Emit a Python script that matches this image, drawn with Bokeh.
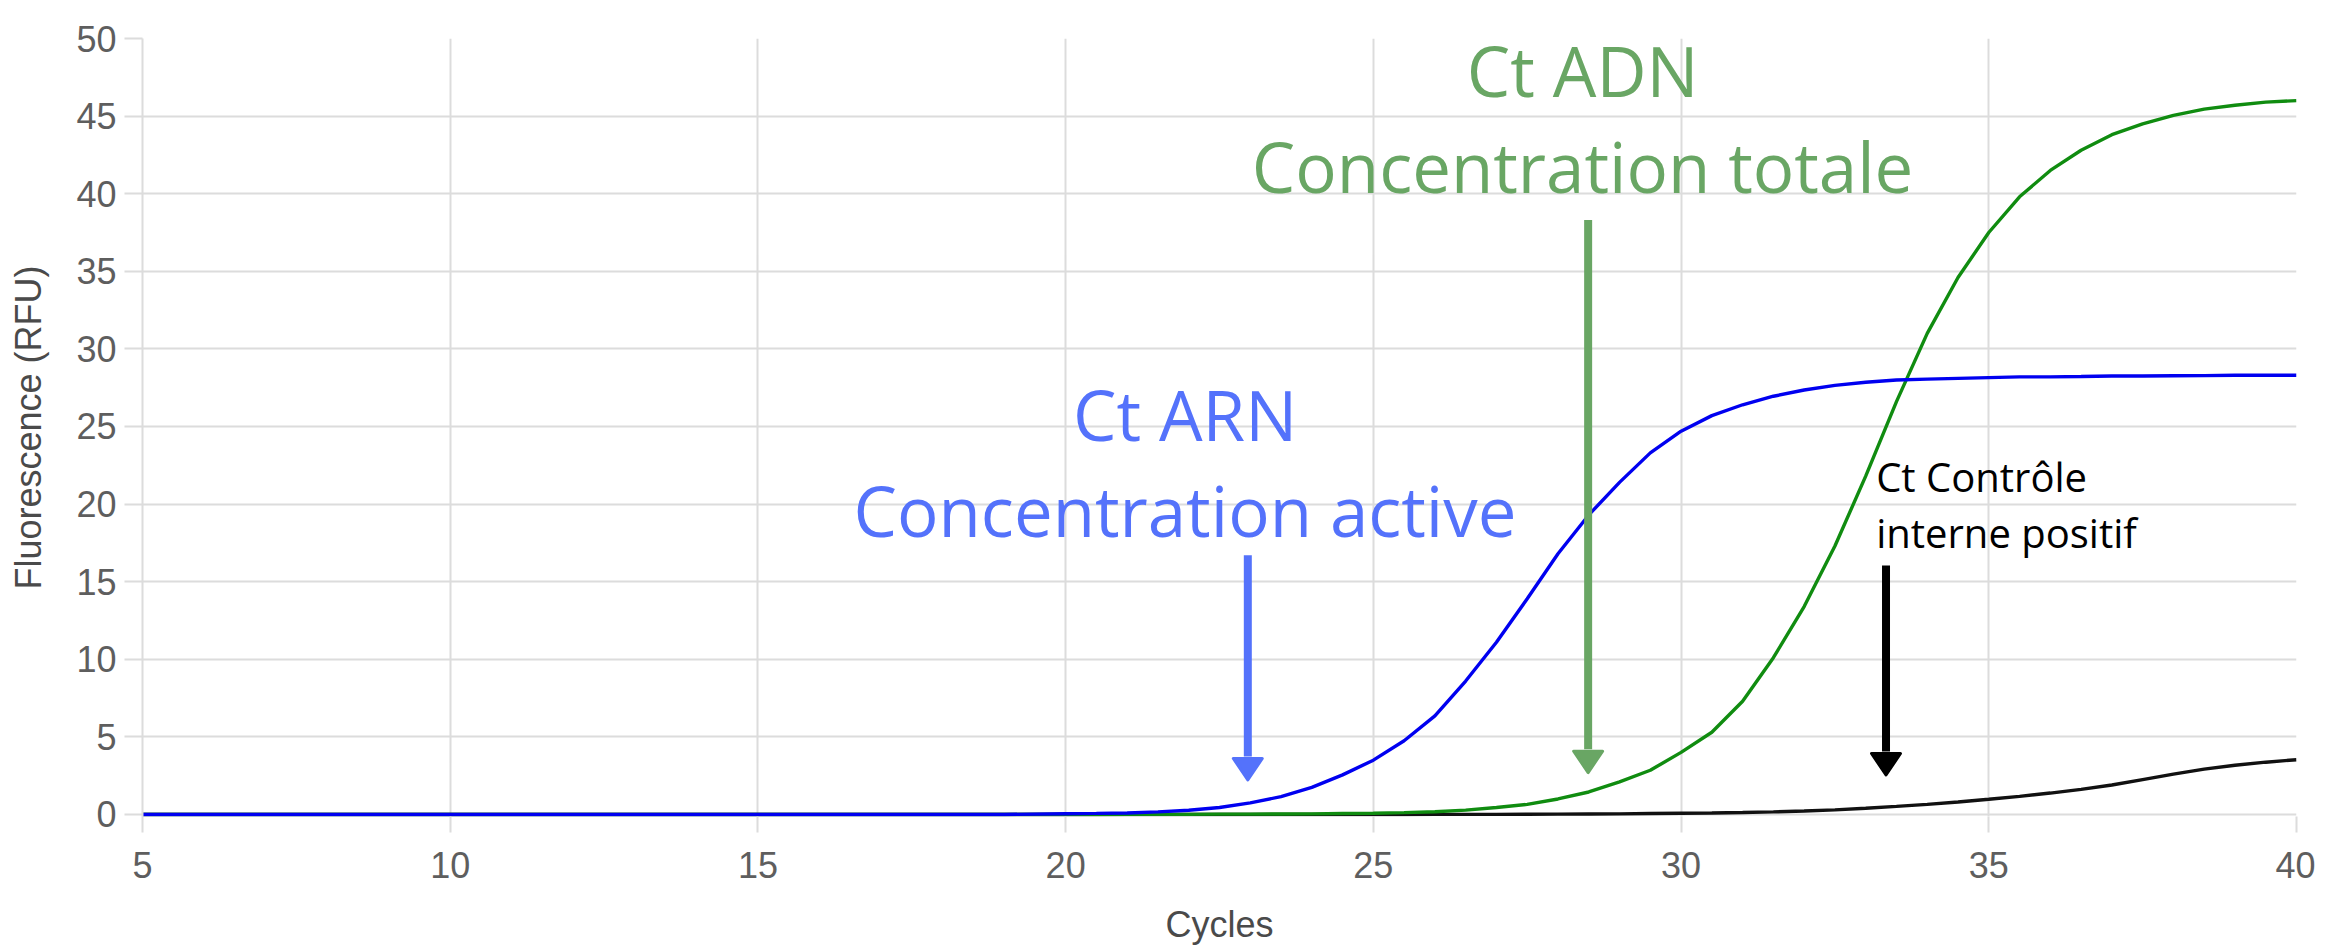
from bokeh.plotting import figure
from bokeh.models import Range1d, Label
from bokeh.embed import file_html
from bokeh.resources import INLINE

# ---------------- data ----------------
cycles = [5, 6, 7, 8, 9, 10, 11, 12, 13, 14, 15, 16, 17, 18, 19,
          20, 20.5, 21, 21.5, 22, 22.5, 23, 23.5, 24, 24.5, 25, 25.5,
          26, 26.5, 27, 27.5, 28, 28.5, 29, 29.5, 30, 30.5, 31, 31.5,
          32, 32.5, 33, 33.5, 34, 34.5, 35, 35.5, 36, 36.5, 37, 37.5,
          38, 38.5, 39, 39.5, 40]

rfu_arn = [0, 0, 0, 0, 0, 0, 0, 0, 0, 0, 0, 0, 0, 0, 0,
           0.05, 0.07, 0.10, 0.17, 0.27, 0.45, 0.75, 1.15, 1.75, 2.55, 3.5, 4.75,
           6.35, 8.6, 11.1, 13.9, 16.8, 19.3, 21.4, 23.3, 24.7, 25.7, 26.4, 26.95,
           27.35, 27.65, 27.85, 28.0, 28.05, 28.1, 28.15, 28.2, 28.2, 28.22, 28.25, 28.25,
           28.27, 28.28, 28.3, 28.3, 28.3]

rfu_adn = [0, 0, 0, 0, 0, 0, 0, 0, 0, 0, 0, 0, 0, 0, 0,
           0, 0, 0.01, 0.01, 0.01, 0.02, 0.02, 0.03, 0.04, 0.06, 0.08, 0.12,
           0.18, 0.28, 0.45, 0.65, 1.0, 1.45, 2.1, 2.85, 4.0, 5.3, 7.3, 10.1,
           13.4, 17.3, 21.8, 26.6, 31.0, 34.6, 37.5, 39.8, 41.5, 42.8, 43.8, 44.5,
           45.05, 45.45, 45.7, 45.9, 46.0]

rfu_cip = [0, 0, 0, 0, 0, 0, 0, 0, 0, 0, 0, 0, 0, 0, 0,
           0, 0, 0, 0, 0, 0, 0, 0, 0, 0, 0, 0,
           0.01, 0.01, 0.01, 0.015, 0.02, 0.03, 0.04, 0.06, 0.08, 0.10, 0.13, 0.17,
           0.22, 0.30, 0.40, 0.52, 0.65, 0.80, 0.98, 1.17, 1.38, 1.62, 1.90, 2.25,
           2.60, 2.92, 3.17, 3.37, 3.53]

x_ticks = [5, 10, 15, 20, 25, 30, 35, 40]
y_ticks = [0, 5, 10, 15, 20, 25, 30, 35, 40, 45, 50]

# ---------------- styles ----------------
GRID = "#dcdcdc"
TICK_TXT = "#5e5e5e"
TITLE_TXT = "#4a4a4a"
AXIS_FONT = "Liberation Sans"
ANN_FONT = "Open Sans"
C_ARN_LINE = "#0000f0"
C_ADN_LINE = "#108c10"
C_CIP_LINE = "#111111"
C_ARN_ANN = "#5472fb"
C_ADN_ANN = "#69a664"
C_CIP_ANN = "#000000"

FW, FH = 2154, 778
X0, X1 = 5, 40
Y0, Y1 = -0.13, 50

p = figure(frame_width=FW, frame_height=FH,
           min_border_left=142, min_border_right=19,
           min_border_top=38, min_border_bottom=119,
           x_range=Range1d(X0, X1), y_range=Range1d(Y0, Y1),
           output_backend="svg", toolbar_location=None)

PX_X = (X1 - X0) / FW   # data units per screen pixel
PX_Y = (Y1 - Y0) / FH

p.outline_line_color = None
p.background_fill_color = "white"
p.border_fill_color = "white"

for ax, ticks in ((p.xaxis, x_ticks), (p.yaxis, y_ticks)):
    ax.ticker = ticks
    ax.major_tick_line_color = GRID
    ax.major_tick_line_width = 2
    ax.major_tick_in = 0
    ax.minor_tick_line_color = None
    ax.major_label_text_font = AXIS_FONT
    ax.major_label_text_font_size = "36px"
    ax.major_label_text_color = TICK_TXT
    ax.axis_label_text_font = AXIS_FONT
    ax.axis_label_text_font_size = "36px"
    ax.axis_label_text_font_style = "normal"
    ax.axis_label_text_color = TITLE_TXT

p.xaxis.axis_line_color = None
p.yaxis.axis_line_color = GRID
p.yaxis.axis_line_width = 2
p.xaxis.major_tick_out = 16
p.yaxis.major_tick_out = 18
p.yaxis.major_label_standoff = 8
p.xaxis.major_label_standoff = 19
p.xaxis.axis_label = "Cycles"
p.yaxis.axis_label = "Fluorescence (RFU)"
p.xaxis.axis_label_standoff = 23
p.yaxis.axis_label_standoff = 24

p.xgrid.grid_line_color = GRID
p.ygrid.grid_line_color = GRID
p.xgrid.grid_line_width = 2
p.ygrid.grid_line_width = 2

# ---------------- curves ----------------
p.line(cycles, rfu_cip, line_color=C_CIP_LINE, line_width=3.4)
p.line(cycles, rfu_adn, line_color=C_ADN_LINE, line_width=3.4)
p.line(cycles, rfu_arn, line_color=C_ARN_LINE, line_width=3.4)

# ---------------- annotations ----------------
def add_arrow(x, y_top, y_tip, color):
    half_w = 14.5 * PX_X
    tip = y_tip + 1.5 * PX_Y
    base = tip + 21.5 * PX_Y
    p.segment(x0=[x], y0=[y_top], x1=[x], y1=[base + 2 * PX_Y],
              line_color=color, line_width=8, line_cap="butt")
    p.patch([x - half_w, x + half_w, x], [base, base, tip],
            fill_color=color, line_color=color, line_width=3,
            line_join="round")

add_arrow(22.96, 16.7, 2.13, C_ARN_ANN)
add_arrow(28.49, 38.3, 2.6, C_ADN_ANN)
add_arrow(33.33, 16.05, 2.45, C_CIP_ANN)

def add_label(x, y, txt, color, size_px, align):
    # y is the wanted baseline; lift by the renderer's baseline offset
    p.add_layout(Label(x=x, y=y + 0.4 * size_px * PX_Y, text=txt,
                       text_color=color, text_font=ANN_FONT,
                       text_font_size=f"{size_px}px",
                       text_align=align, text_baseline="alphabetic"))

add_label(21.94, 24.03, "Ct ARN", C_ARN_ANN, 69, "center")
add_label(21.94, 17.81, "Concentration active", C_ARN_ANN, 69, "center")
add_label(28.40, 46.16, "Ct ADN", C_ADN_ANN, 69, "center")
add_label(28.40, 39.99, "Concentration totale", C_ADN_ANN, 69, "center")
add_label(33.17, 20.77, "Ct Contrôle", C_CIP_ANN, 40, "left")
add_label(33.17, 17.12, "interne positif", C_CIP_ANN, 40, "left")

open("out.html", "w").write(file_html(p, INLINE))
